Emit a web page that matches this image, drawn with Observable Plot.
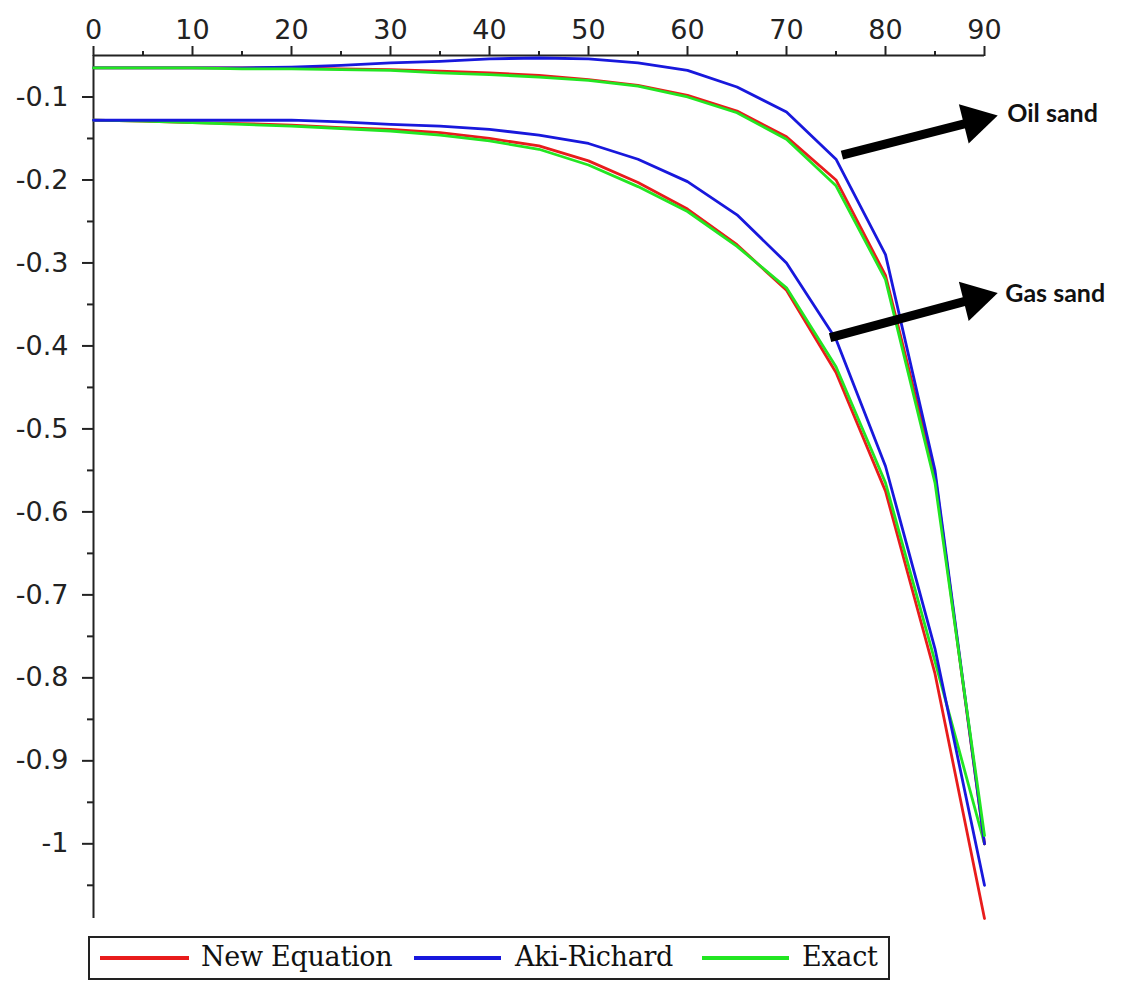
<!DOCTYPE html>
<html><head><meta charset="utf-8">
<script src="https://cdn.jsdelivr.net/npm/d3@7"></script>
<script src="https://cdn.jsdelivr.net/npm/@observablehq/plot@0.6"></script>
<style>
body{margin:0;background:#fff;}
#wrap{position:relative;width:1126px;height:984px;background:#fff;}
#legend{position:absolute;left:88px;top:936px;width:802px;height:44px;border:2px solid #222;box-sizing:border-box;font-family:"DejaVu Serif",serif;font-size:27px;color:#111;}
.sw{position:absolute;top:18px;height:4px;}
.lt{position:absolute;top:3px;line-height:32px;white-space:nowrap;letter-spacing:-0.3px;}
</style></head>
<body><div id="wrap"><div id="chart"></div><div id="legend"></div></div>
<script>
// Incidence angle (degrees)
const angles = [0,5,10,15,20,25,30,35,40,45,50,55,60,65,70,75,80,85,90];

// Gas sand
const gasNew   = [-0.128,-0.129,-0.131,-0.132,-0.134,-0.137,-0.139,-0.143,-0.150,-0.159,-0.177,-0.203,-0.235,-0.278,-0.333,-0.432,-0.575,-0.795,-1.090];
const gasAki   = [-0.128,-0.128,-0.128,-0.128,-0.128,-0.130,-0.133,-0.135,-0.139,-0.146,-0.156,-0.175,-0.202,-0.242,-0.300,-0.392,-0.545,-0.765,-1.050];
const gasExact = [-0.128,-0.129,-0.131,-0.133,-0.135,-0.138,-0.141,-0.146,-0.153,-0.163,-0.182,-0.208,-0.238,-0.280,-0.330,-0.425,-0.565,-0.780,-1.000];

// Oil sand
const oilNew   = [-0.065,-0.065,-0.065,-0.065,-0.065,-0.066,-0.067,-0.069,-0.071,-0.074,-0.079,-0.086,-0.098,-0.117,-0.148,-0.200,-0.315,-0.555,-1.000];
const oilAki   = [-0.065,-0.065,-0.065,-0.065,-0.064,-0.062,-0.059,-0.057,-0.054,-0.053,-0.054,-0.059,-0.068,-0.088,-0.118,-0.175,-0.290,-0.550,-1.000];
const oilExact = [-0.065,-0.065,-0.065,-0.066,-0.066,-0.067,-0.068,-0.071,-0.073,-0.076,-0.080,-0.087,-0.100,-0.119,-0.151,-0.207,-0.320,-0.565,-0.990];

const methods = ["New Equation","Aki-Richard","Exact"];
const methodColors = ["#e81c1c","#1818dc","#22e622"];

// Axis ticks
const xTicks = [0,10,20,30,40,50,60,70,80,90];
const xMinor = [5,15,25,35,45,55,65,75,85];
const yTicks = [-0.1,-0.2,-0.3,-0.4,-0.5,-0.6,-0.7,-0.8,-0.9,-1];
const yMinor = [-0.15,-0.25,-0.35,-0.45,-0.55,-0.65,-0.75,-0.85,-0.95,-1.05];
const xDomain = [0,90];
const yDomain = [-1.09,-0.05];

// Annotations (arrow tail, head, label position in data units)
const annLabels = ["Oil sand","Gas sand"];
const annTailX = [75.6, 74.4];
const annTailY = [-0.170, -0.390];
const annHeadX = [89.05, 89.05];
const annHeadY = [-0.129, -0.343];
const annTextX = [92.3, 92.1];
const annTextY = [-0.120, -0.337];

// Build series table (drawing order per group)
const seriesList = [
  {key:"gas-new", method:"New Equation", vals:gasNew},
  {key:"gas-exact", method:"Exact", vals:gasExact},
  {key:"gas-aki", method:"Aki-Richard", vals:gasAki},
  {key:"oil-new", method:"New Equation", vals:oilNew},
  {key:"oil-aki", method:"Aki-Richard", vals:oilAki},
  {key:"oil-exact", method:"Exact", vals:oilExact}
];
const rows = [];
for (const s of seriesList) angles.forEach((a,i) => rows.push({key:s.key, method:s.method, angle:a, value:s.vals[i]}));

const ann = annLabels.map((l,i) => ({label:l, x1:annTailX[i], y1:annTailY[i], x2:annHeadX[i], y2:annHeadY[i], tx:annTextX[i], ty:annTextY[i]}));

const fmt = d => String(Math.round(d*100)/100);
const tickFont = "'DejaVu Sans', Verdana, sans-serif";

const chart = Plot.plot({
  width: 1126,
  height: 930,
  marginTop: 55,
  marginLeft: 93,
  marginRight: 142,
  marginBottom: 12,
  style: {fontFamily: tickFont, fontSize: "26px", color: "#222", background: "white", overflow: "visible"},
  x: {domain: xDomain, label: null},
  y: {domain: yDomain, label: null},
  color: {domain: methods, range: methodColors},
  marks: [
    Plot.ruleY([yDomain[1]], {stroke: "#222", strokeWidth: 2}),
    Plot.ruleX([xDomain[0]], {stroke: "#222", strokeWidth: 2}),
    Plot.axisX(xTicks, {anchor: "top", tickSize: 10, tickFormat: () => "", stroke: "#222", strokeWidth: 2}),
    Plot.axisX(xMinor, {anchor: "top", tickSize: 5, tickFormat: () => "", stroke: "#222", strokeWidth: 2}),
    Plot.axisY(yTicks, {anchor: "left", tickSize: 11, tickFormat: () => "", stroke: "#222", strokeWidth: 2}),
    Plot.axisY(yMinor, {anchor: "left", tickSize: 6, tickFormat: () => "", stroke: "#222", strokeWidth: 2}),
    // tick labels
    Plot.text(xTicks, {x: d => d, frameAnchor: "top", lineAnchor: "bottom", dy: -17, text: fmt, fontSize: 27, fontFamily: tickFont, fill: "#222"}),
    Plot.text(yTicks, {y: d => d, frameAnchor: "left", dx: -25, textAnchor: "end", text: fmt, fontSize: 27, fontFamily: tickFont, fill: "#222"}),
    Plot.line(rows, {x: "angle", y: "value", z: "key", stroke: "method", strokeWidth: 2.8}),
    Plot.link(ann, {x1: "x1", y1: "y1", x2: "x2", y2: "y2", stroke: "black", strokeWidth: 9}),
    Plot.dot(ann, {x: "x2", y: "y2", symbol: "triangle", r: 15, fill: "black", stroke: "none", rotate: 76}),
    Plot.text(ann, {x: "tx", y: "ty", text: "label", textAnchor: "start", fontWeight: "bold", fontSize: 25, fontFamily: "Lato, 'Open Sans', sans-serif", fill: "#111"})
  ]
});
document.getElementById("chart").appendChild(chart);

// Legend
const legend = document.getElementById("legend");
const swLeft = [10, 324, 612];
const swWidth = [89, 87, 87];
const txtLeft = [111, 425, 712];
methods.forEach((m,i) => {
  const sw = document.createElement("div");
  sw.className = "sw";
  sw.style.left = swLeft[i] + "px";
  sw.style.width = swWidth[i] + "px";
  sw.style.background = methodColors[i];
  legend.appendChild(sw);
  const t = document.createElement("div");
  t.className = "lt";
  t.style.left = txtLeft[i] + "px";
  t.textContent = m;
  legend.appendChild(t);
});
</script></body></html>
